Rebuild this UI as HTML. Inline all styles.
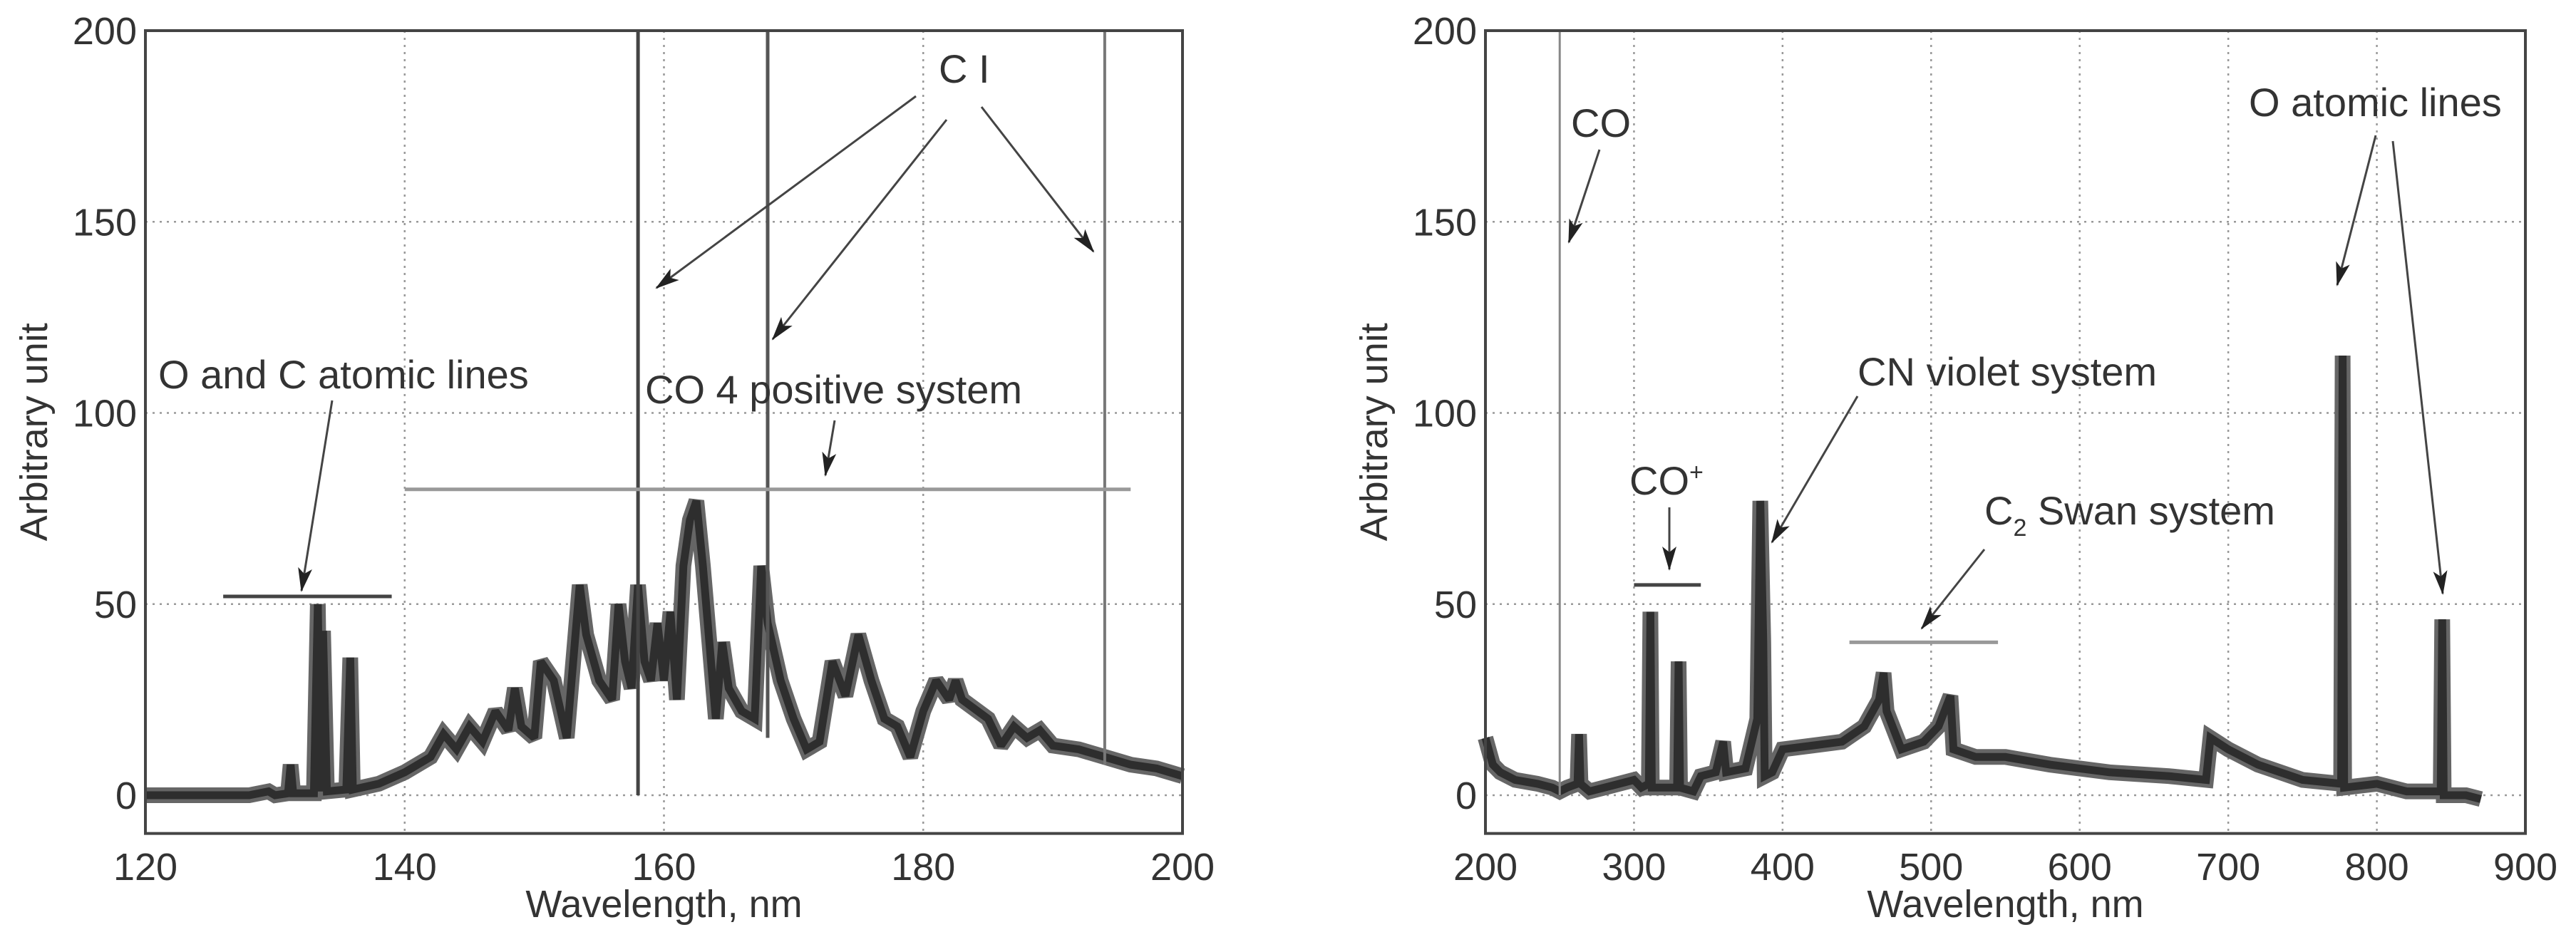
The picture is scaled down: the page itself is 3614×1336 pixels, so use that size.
<!DOCTYPE html>
<html><head><meta charset="utf-8"><style>
html,body{margin:0;padding:0;background:#fff;}
svg{display:block;font-family:"Liberation Sans",Arial,sans-serif;}
</style></head><body>
<svg id="chart" width="3614" height="1336" viewBox="0 0 3614 1336" xmlns="http://www.w3.org/2000/svg">
<defs>
<marker id="ah" markerWidth="34" markerHeight="24" refX="32" refY="12" orient="auto" markerUnits="userSpaceOnUse" viewBox="0 0 34 24"><path d="M0,2 L34,12 L0,22 L8,12 z" fill="#222"/></marker>
</defs>
</svg>
<script>
// Left panel data (VUV)
const leftWl = [120,128,129.5,130,131,131.2,131.4,133,133.3,133.5,133.7,134,135.5,135.8,136,138,140,142,143,144,145,146,147,148,148.5,149,150,150.5,151.5,152.5,153.5,154,155,156,156.5,157,157.5,158,158.5,159,159.5,160,160.5,161,161.5,162,162.5,163,163.5,164,164.5,165,166,167,167.5,168,169,170,171,172,173,174,175,176,177,178,179,180,181,182,182.5,183,185,186,187,188,189,190,192,194,196,198,200];
const leftVal = [0,0,1,0,0.5,8,0.5,0.5,50,1,43,1,1.5,36,1.5,3,6,10,16,12,18,14,22,17,28,18,15,35,30,15,55,42,30,25,50,35,28,55,35,30,45,30,48,25,60,72,77,60,40,20,40,28,22,20,60,45,30,20,12,14,35,26,42,30,20,18,10,22,30,25,30,25,20,13,18,15,17,13,12,10,8,7,5];
const leftXTicks = [120,140,160,180,200];
const leftYTicks = [0,50,100,150,200];
const leftCI = [158,168,194];
// Right panel data (UV-vis-NIR)
const rightWl = [200,205,210,220,235,245,250,255,262,263,264,270,280,290,300,305,310,311,312,320,329,330,331,340,345,355,360,362,375,383,385,387,388,393,400,420,440,455,465,468,470,480,495,505,513,515,530,550,580,620,660,685,688,700,720,750,776,777,778,800,820,843,844,845,860,870];
const rightVal = [15,8,6,4,3,2,1,2,3,16,3,1,2,3,4,2,3,48,2,2,2,35,2,1,5,6,14,6,7,20,77,40,5,6,12,13,14,18,25,32,22,12,14,18,26,12,10,10,8,6,5,4,15,12,8,4,3,115,2,3,1,1,46,0,0,-1];
const rightXTicks = [200,300,400,500,600,700,800,900];
const rightYTicks = [0,50,100,150,200];

const svg = document.getElementById('chart');
const NS = 'http://www.w3.org/2000/svg';
function mk(tag, attrs, parent){ const e=document.createElementNS(NS,tag); for(const k in attrs) e.setAttribute(k,attrs[k]); (parent||svg).appendChild(e); return e; }

function panel(cfg){
  const g = mk('g',{});
  
  
  const X = v => cfg.x0 + (v - cfg.xmin)/(cfg.xmax-cfg.xmin)*(cfg.x1-cfg.x0);
  const Y = v => cfg.y0 - (v - 0)/200*(cfg.y0-cfg.y200);
  const yb = Y(-10);
  cfg.xt.forEach(t=>{ if(t>cfg.xmin && t<cfg.xmax){ const l=mk('line',{x1:X(t),x2:X(t),y1:Y(200),y2:yb,stroke:'#999','stroke-width':2.5,'stroke-dasharray':'3 7'},g);
    
     }});
  cfg.yt.forEach(t=>{ if(t<200){ const l=mk('line',{x1:cfg.x0,x2:cfg.x1,y1:Y(t),y2:Y(t),stroke:'#999','stroke-width':2.5,'stroke-dasharray':'3 7'},g);
    
     }});
  cfg.xt.forEach(t=>{ const tx=mk('text',{x:X(t),y:1235,'font-size':54,'text-anchor':'middle',fill:'#333'},g); tx.textContent=t;
    
     });
  cfg.yt.forEach(t=>{ const tx=mk('text',{x:cfg.x0-12,y:Y(t)+19,'font-size':54,'text-anchor':'end',fill:'#333'},g); tx.textContent=t;
    
     });
  const xt=mk('text',{x:(cfg.x0+cfg.x1)/2,y:1287,'font-size':54,'text-anchor':'middle',fill:'#333'},g); xt.textContent='Wavelength, nm';
  
  
  const yt=mk('text',{x:0,y:0,'font-size':54,'text-anchor':'middle',fill:'#333',transform:`translate(${cfg.x0-138},${(Y(200)+yb)/2}) rotate(-90)`},g); yt.textContent='Arbitrary unit';
  
  
  const pts = cfg.wl.map((w,i)=>X(w).toFixed(1)+','+Y(cfg.val[i]).toFixed(1)).join(' ');
  const halo = mk('polyline',{points:pts,fill:'none',stroke:'#666','stroke-width':22,'stroke-linejoin':'miter','stroke-miterlimit':2},g);
  
  
  const ln = mk('polyline',{points:pts,fill:'none',stroke:'#2e2e2e','stroke-width':11,'stroke-linejoin':'miter','stroke-miterlimit':2},g);
  
  
  (cfg.vlines||[]).forEach(v=>{ const l=mk('line',{x1:X(v[0]),x2:X(v[0]),y1:Y(200),y2:Y(v[1]),stroke:v[2],'stroke-width':v[3]},g);
    
     });
  (cfg.hlines||[]).forEach(h=>{ const l=mk('line',{x1:X(h[0]),x2:X(h[1]),y1:Y(h[2]),y2:Y(h[2]),stroke:h[3],'stroke-width':5},g);
    
     });
  const fr=mk('rect',{x:cfg.x0,y:Y(200),width:cfg.x1-cfg.x0,height:yb-Y(200),fill:'none',stroke:'#444','stroke-width':4},g);
  
  
  return g;
}
function label(t,x,y,name){ const e=mk('text',{x:x,y:y,'font-size':56,fill:'#333'}); e.textContent=t;
  
  
  return e; }
function arrow(x1,y1,x2,y2){ const a=mk('line',{x1,y1,x2,y2,stroke:'#444','stroke-width':3,'marker-end':'url(#ah)'});
  
   }

panel({name:'left-panel',x0:204,x1:1659,y0:1116,y200:43,xmin:120,xmax:200,xt:leftXTicks,yt:leftYTicks,wl:leftWl,val:leftVal,
  vlines:[[leftCI[0],0,'#444',5],[leftCI[1],15,'#555',5],[leftCI[2],8,'#777',4]],
  hlines:[[126,139,52,'#444'],[140,196,80,'#999']]});
panel({name:'right-panel',x0:2084,x1:3543,y0:1116,y200:43,xmin:200,xmax:900,xt:rightXTicks,yt:rightYTicks,wl:rightWl,val:rightVal,
  vlines:[[250,0,'#888',3]],
  hlines:[[300,345,55,'#444'],[445,545,40,'#999']]});

label('O and C atomic lines',222,545,'o-c-atomic-lines-label');
arrow(466,562,423,829);
label('CO 4 positive system',905,566,'co-4-positive-label');
arrow(1171,590,1158,667);
label('C I',1317,116,'c-i-label');
arrow(1285,135,921,404);
arrow(1328,168,1084,476);
arrow(1377,150,1534,353);

label('CO',2204,192,'co-label');
arrow(2244,210,2201,340);
const cop = label('CO',2286,694,'co-plus-label');
const sup = document.createElementNS(NS,'tspan'); sup.setAttribute('dy','-20'); sup.setAttribute('font-size','34'); sup.textContent='+'; cop.appendChild(sup);
arrow(2342,712,2342,799);
label('CN violet system',2606,541,'cn-violet-label');
arrow(2606,556,2486,761);
const c2 = label('C',2784,736,'c2-swan-label');
const s2 = document.createElementNS(NS,'tspan'); s2.setAttribute('dy','16'); s2.setAttribute('font-size','34'); s2.textContent='2'; c2.appendChild(s2);
const s3 = document.createElementNS(NS,'tspan'); s3.setAttribute('dy','-16'); s3.textContent=' Swan system'; c2.appendChild(s3);
arrow(2784,771,2696,882);
label('O atomic lines',3155,163,'o-atomic-lines-label');
arrow(3333,190,3279,400);
arrow(3357,198,3427,833);
</script>
</body></html>
